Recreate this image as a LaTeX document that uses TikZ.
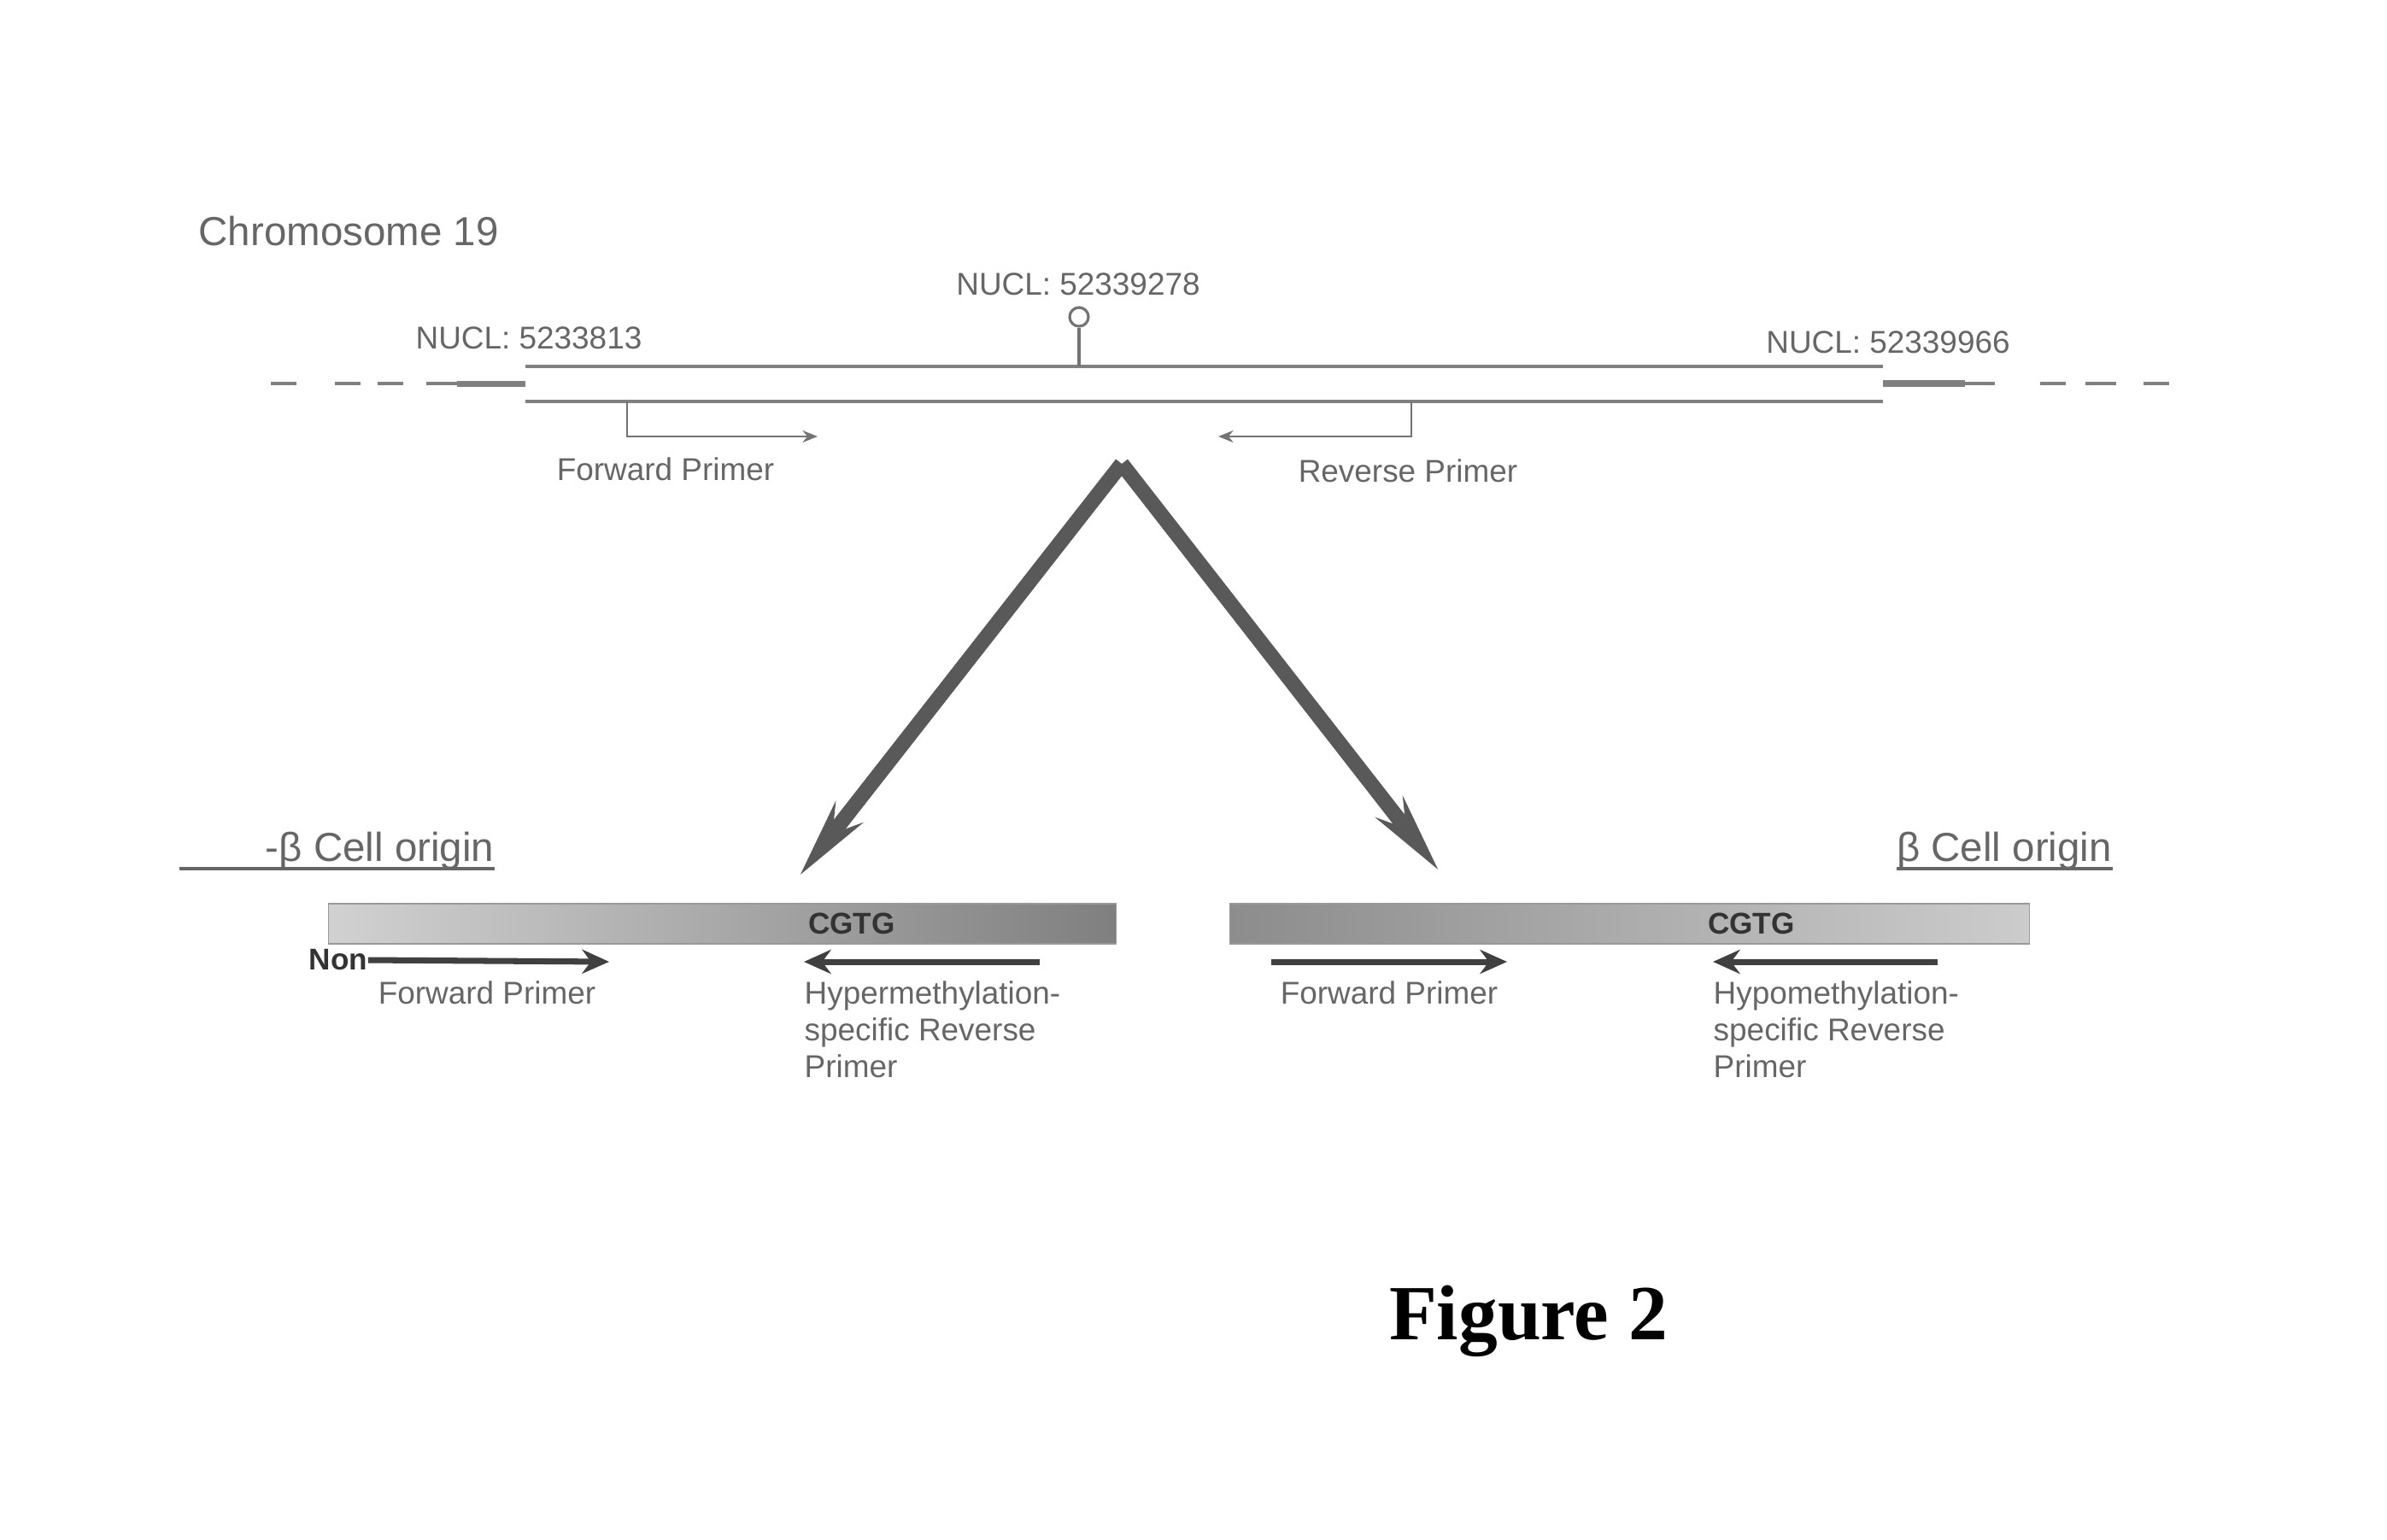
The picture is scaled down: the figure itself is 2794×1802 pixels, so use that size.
\documentclass[tikz,border=0pt]{standalone}
\usepackage{fontspec}
\setmainfont{Liberation Sans}
\newfontfamily\figfont{Liberation Serif}
\usepackage{tikz}
\usetikzlibrary{arrows.meta}

\begin{document}
\begin{tikzpicture}[x=0.01cm, y=-0.01cm,
    lbl/.style={text=black!60, inner sep=0pt, font=\fontsize{10.5}{12.2}\selectfont},
    title/.style={text=black!60, inner sep=0pt, font=\fontsize{13.5}{16}\selectfont},
    chrom/.style={black!50, line width=1.2pt},
    seqbox/.style={draw=black!40, minimum width=9.21cm, minimum height=0.47cm, inner sep=0pt},
    motif/.style={text=black!80, inner sep=0pt, font=\bfseries\fontsize{10}{12}\selectfont},
    toparrow/.style={black!55, line width=0.8pt, -{Stealth[length=5pt, width=4pt]}},
    primer/.style={black!75, line width=2pt, -{Stealth[length=9pt, width=8pt]}},
    bigarrow/.style={black!65, line width=5pt, -{Stealth[length=26pt, width=11pt]}}]
    \useasboundingbox (0, 0) rectangle (2794, 1802);

    % chromosome 19
    \node[title, anchor=west] at (232, 271) (1title) {Chromosome 19};
    \node[lbl] at (1262, 333) (1nuclB) {NUCL: 52339278};
    \node[lbl] at (619, 396) (1nuclA) {NUCL: 5233813};
    \node[lbl] at (2210, 401) (1nuclC) {NUCL: 52339966};

    \draw[chrom] (317, 449) -- (347, 449) (392, 449) -- (422, 449) (442, 449) -- (472, 449);
    \draw[chrom] (499, 449) -- (535, 449);
    \draw[chrom, line width=2pt] (535, 449) -- (615, 449);
    \draw[chrom] (615, 429) -- (2204, 429);
    \draw[chrom] (615, 470) -- (2204, 470);
    \draw[chrom, line width=2.4pt] (2204, 449) -- (2300, 449);
    \draw[chrom] (2300, 449) -- (2335, 449);
    \draw[chrom] (2388, 449) -- (2418, 449) (2441, 449) -- (2477, 449) (2509, 449) -- (2539, 449);

    \node[draw=black!55, line width=0.9pt, circle, minimum size=0.22cm, inner sep=0pt] at (1263, 371) (1snp) {};
    \coordinate (1snpbase) at (1263, 429);
    \draw[black!55, line width=0.9pt] (1snp) -- (1snpbase);

    \coordinate (1fwdA) at (734, 470);
    \coordinate (1fwdB) at (957, 511);
    \coordinate (1revA) at (1652, 470);
    \coordinate (1revB) at (1426, 511);
    \draw[toparrow] (1fwdA) |- (1fwdB);
    \draw[toparrow] (1revA) |- (1revB);
    \node[lbl] at (779, 549) (1fwd) {Forward Primer};
    \node[lbl] at (1648, 551) (1rev) {Reverse Primer};

    \coordinate (apex) at (1313, 543);
    \coordinate (2tip) at (936, 1025);
    \coordinate (3tip) at (1684, 1019);
    \draw[bigarrow] (apex) -- (2tip);
    \draw[bigarrow] (apex) -- (3tip);

    % left
    \node[title, anchor=east] at (579, 996) (2title) {-β Cell origin};
    \coordinate (2line) at (210, 1017);
    \draw[black!60, line width=1pt] (2line) -- (2line -| 2title.east);
    \node[seqbox, left color=black!18, right color=black!50] at (845.5, 1081.5) (2box) {};
    \node[motif] at (997, 1081) (2cgtg) {CGTG};
    \node[text=black!80, inner sep=0pt, font=\bfseries\fontsize{10}{12}\selectfont] at (396, 1124) (2non) {Non};
    \coordinate (2fwdB) at (713, 1126);
    \draw[primer] (2non.east) -- (2fwdB);
    \coordinate (2revA) at (1217, 1126);
    \coordinate (2revB) at (941, 1126);
    \draw[primer] (2revA) -- (2revB);
    \node[lbl] at (570, 1162) (2fwd) {Forward Primer};
    \node[lbl, anchor=north west, align=left] at (941, 1148) (2rev) {Hypermethylation-\\specific Reverse\\Primer};

    % right
    \node[title] at (2346, 996) (3title) {β Cell origin};
    \draw[black!60, line width=1pt] (3title.west |- 0, 1017) -- (3title.east |- 0, 1017);
    \node[seqbox, minimum width=9.35cm, left color=black!45, right color=black!20] at (1907.5, 1081.5) (3box) {};
    \node[motif] at (2050, 1081) (3cgtg) {CGTG};
    \coordinate (3fwdA) at (1488, 1126);
    \coordinate (3fwdB) at (1764, 1126);
    \draw[primer] (3fwdA) -- (3fwdB);
    \coordinate (3revA) at (2268, 1126);
    \coordinate (3revB) at (2005, 1126);
    \draw[primer] (3revA) -- (3revB);
    \node[lbl] at (1626, 1162) (3fwd) {Forward Primer};
    \node[lbl, anchor=north west, align=left] at (2005, 1148) (3rev) {Hypomethylation-\\specific Reverse\\Primer};

    \node[inner sep=0pt, font=\figfont\bfseries\fontsize{26}{30}\selectfont] at (1789, 1547) (fig) {Figure 2};
\end{tikzpicture}
\end{document}
